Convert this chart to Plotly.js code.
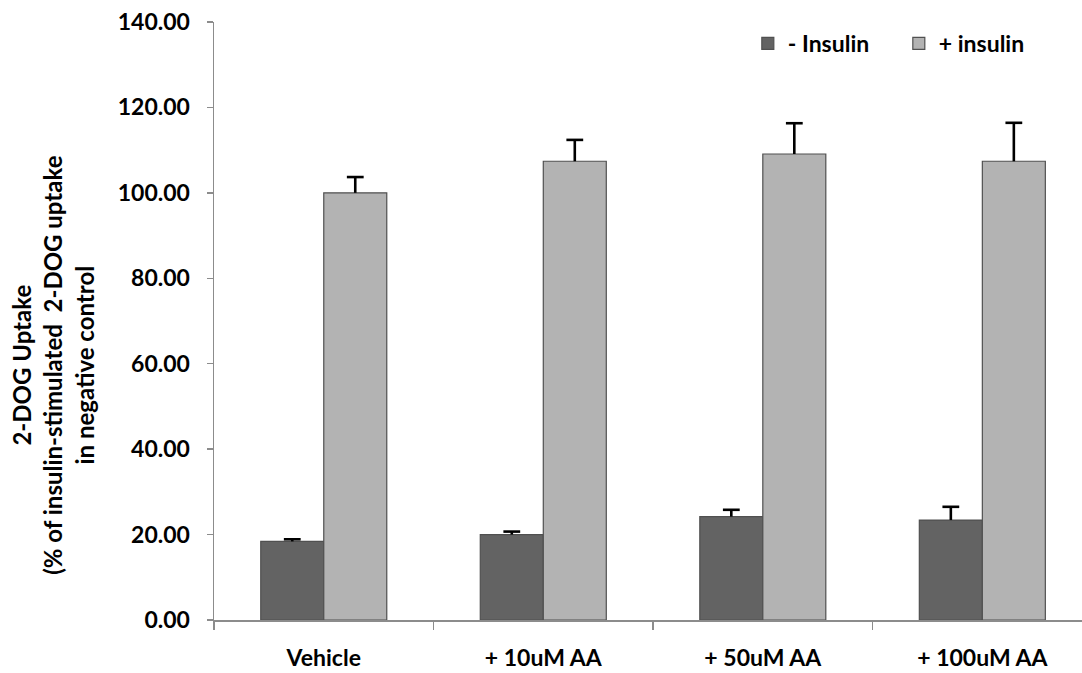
<!DOCTYPE html>
<html>
<head>
<meta charset="utf-8">
<script src="https://cdn.plot.ly/plotly-3.0.1.min.js"></script>
<style>html,body{margin:0;padding:0;background:#fff;}#chart{width:1082px;height:673px;}</style>
</head>
<body>
<div id="chart"></div>
<script>
const categories = ["Vehicle", "+ 10uM AA", "+ 50uM AA", "+ 100uM AA"];
const seriesNames = ["- Insulin", "+ insulin"];
const noInsulin = [18.4, 20.0, 24.2, 23.4];
const noInsulinErr = [0.5, 0.7, 1.6, 3.1];
const withInsulin = [100.0, 107.4, 109.1, 107.4];
const withInsulinErr = [3.7, 5.0, 7.2, 9.0];
const yTicks = [0, 20, 40, 60, 80, 100, 120, 140];
const yTickText = yTicks.map(v => v.toFixed(2));
const yTitleLines = ["2-DOG Uptake", "(% of insulin-stimulated  2-DOG uptake", "in negative control"];

const fontFam = "Lato, 'Open Sans', sans-serif";
const errColor = "#000";
const errThick = 2.6;

function barTrace(name, vals, errs, color, og) {
  return {
    type: "bar", name: name, x: categories, y: vals, offsetgroup: og, alignmentgroup: "g",
    marker: {color: color, line: {color: "#505050", width: 1.2}},
    error_y: {type: "data", array: errs, symmetric: false, arrayminus: vals.map(() => 0),
      color: errColor, thickness: errThick, width: 0}
  };
}
function capTrace(vals, errs, og) {
  return {
    type: "scatter", mode: "markers", x: categories, y: vals.map((v, i) => v + errs[i]),
    offsetgroup: og, alignmentgroup: "g", showlegend: false, hoverinfo: "skip", cliponaxis: false,
    marker: {symbol: "line-ew-open", size: 12, color: errColor, line: {color: errColor, width: errThick}}
  };
}

const traces = [
  barTrace(seriesNames[0], noInsulin, noInsulinErr, "#636363", "a"),
  barTrace(seriesNames[1], withInsulin, withInsulinErr, "#b3b3b3", "b"),
  capTrace(noInsulin, noInsulinErr, "a"),
  capTrace(withInsulin, withInsulinErr, "b")
];

const layout = {
  width: 1082, height: 673,
  margin: {l: 214, r: 0, t: 22, b: 53},
  paper_bgcolor: "#fff", plot_bgcolor: "#fff",
  barmode: "group", bargap: 0.426, bargroupgap: 0,
  scattermode: "group", scattergap: 0.426,
  font: {family: fontFam, color: "#000", size: 23},
  showlegend: true,
  legend: {orientation: "h", x: 0.615, y: 1.0, xanchor: "left", yanchor: "top",
    font: {family: fontFam, size: 23, weight: "bold"}, entrywidth: 106, entrywidthmode: "pixels",
    traceorder: "normal", bgcolor: "rgba(0,0,0,0)"},
  xaxis: {
    type: "category", autorange: false, range: [-0.5, 3.454], automargin: false,
    categoryorder: "array", categoryarray: categories,
    showline: true, linecolor: "#8c8c8c", linewidth: 1.5,
    ticks: "outside", tickson: "boundaries", ticklen: 8, tickcolor: "#8c8c8c", tickwidth: 1.5,
    tickfont: {family: fontFam, size: 23, weight: "bold"},
    ticklabelstandoff: 17,
    showgrid: false, zeroline: false, fixedrange: true
  },
  yaxis: {
    range: [0, 140], autorange: false, automargin: false, tickvals: yTicks, ticktext: yTickText,
    showline: true, linecolor: "#8c8c8c", linewidth: 1.5,
    ticks: "outside", ticklen: 6, tickcolor: "#8c8c8c", tickwidth: 1.5,
    tickfont: {family: fontFam, size: 23, weight: "bold"},
    ticklabelstandoff: 12,
    showgrid: false, zeroline: false
  },
  annotations: [{
    text: yTitleLines.join("<br>"), xref: "paper", yref: "paper", x: -0.186, y: 0.426,
    xanchor: "center", yanchor: "middle", textangle: -90, showarrow: false,
    font: {family: fontFam, size: 24, weight: "bold", color: "#000"}
  }]
};

Plotly.newPlot("chart", traces, layout, {displayModeBar: false, staticPlot: true});
</script>
</body>
</html>
